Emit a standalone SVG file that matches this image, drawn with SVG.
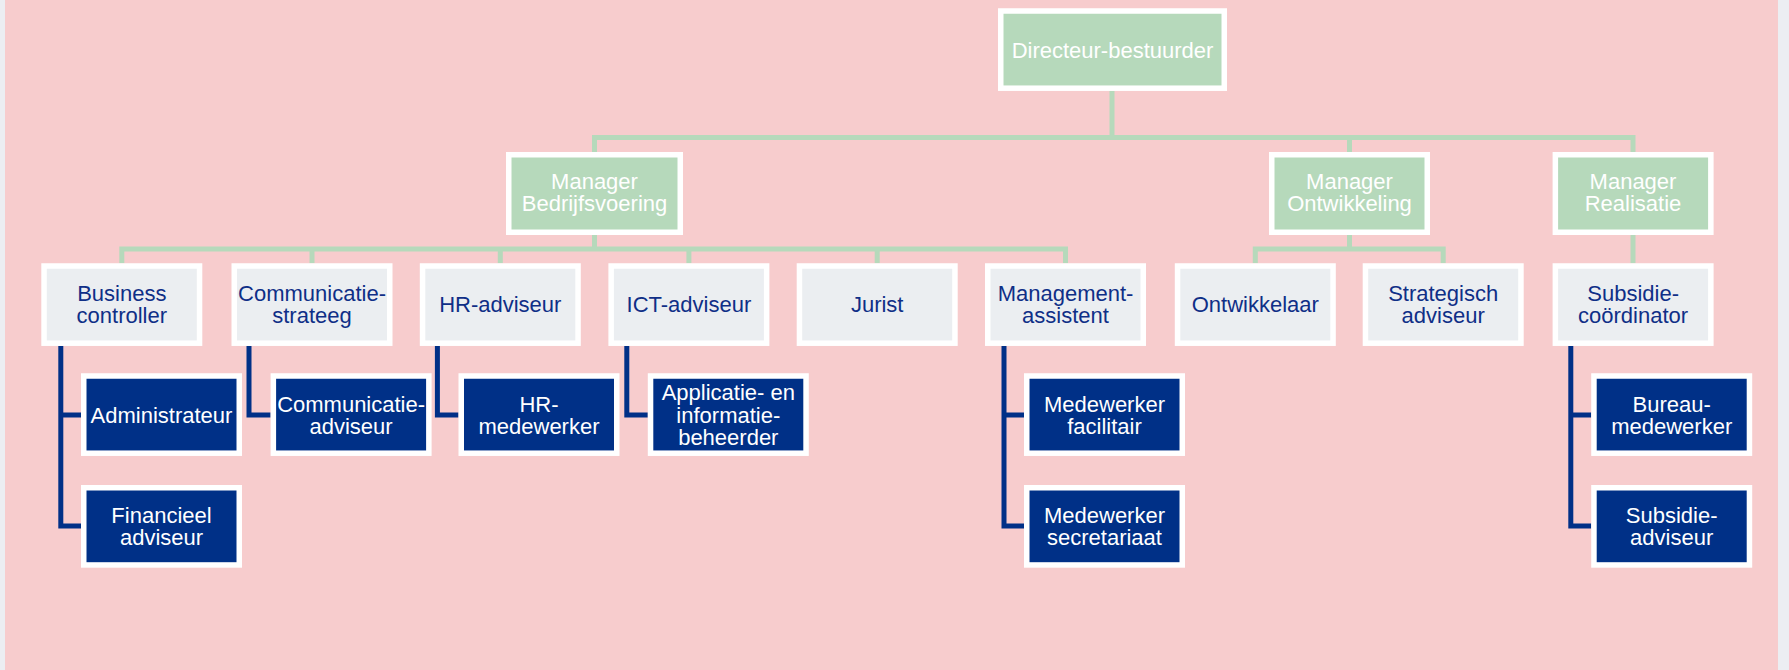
<svg xmlns="http://www.w3.org/2000/svg" width="1789" height="670" viewBox="0 0 1789 670">
<style>
text{font-family:"Liberation Sans",Arial,sans-serif;font-size:22px;text-anchor:middle}
.g rect{fill:#b6d9bb;stroke:#fff;stroke-width:5.5}
.g text{fill:#fff}
.l rect{fill:#ebeef1;stroke:#fff;stroke-width:5.5}
.l text{fill:#0f2f87}
.d rect{fill:#003087;stroke:#fff;stroke-width:5.5}
.d text{fill:#fff}
.cg{fill:none;stroke:#b6d9bb;stroke-width:5}
.cb{fill:none;stroke:#003087;stroke-width:5}
</style>
<rect x="0" y="0" width="1789" height="670" fill="#eceef2"/>
<rect x="5" y="0" width="1773" height="670" fill="#f7cccd"/>
<g id="connectors">
<path class="cg" d="M1112,91 V137.5 M594.5,152 V137.5 H1633 V152 M1349.5,137.5 V152"/>
<path class="cg" d="M594.5,235 V249 M121.8,263.3 V249 H1065.5 V263.3 M312,249 V263.3 M500.3,249 V263.3 M688.9,249 V263.3 M877.2,249 V263.3"/>
<path class="cg" d="M1349.5,235 V249 M1255.3,263.3 V249 H1443.2 V263.3"/>
<path class="cg" d="M1633,235 V263.3"/>
<path class="cb" d="M60.8,346 V526 H81 M60.8,415 H81"/>
<path class="cb" d="M249,346 V415 H270.6"/>
<path class="cb" d="M437.4,346 V415 H458.5"/>
<path class="cb" d="M626.8,346 V415 H647.8"/>
<path class="cb" d="M1004,346 V526 H1024 M1004,415 H1024"/>
<path class="cb" d="M1570.8,346 V526 H1591.2 M1570.8,415 H1591.2"/>
</g>
<g id="directeur" class="g"><rect x="1000.75" y="11" width="223.5" height="77.2"/><text x="1112.5" y="57.5">Directeur-bestuurder</text></g>
<g id="manager-bedrijfsvoering" class="g"><rect x="508.75" y="154.75" width="171.5" height="77.5"/><text x="594.5" y="189">Manager</text><text x="594.5" y="211">Bedrijfsvoering</text></g>
<g id="manager-ontwikkeling" class="g"><rect x="1271.75" y="154.75" width="155.5" height="77.5"/><text x="1349.5" y="189">Manager</text><text x="1349.5" y="211">Ontwikkeling</text></g>
<g id="manager-realisatie" class="g"><rect x="1555.35" y="154.75" width="155.5" height="77.5"/><text x="1633" y="189">Manager</text><text x="1633" y="211">Realisatie</text></g>

<g id="business-controller" class="l"><rect x="44.05" y="266" width="155.5" height="77.2"/><text x="121.8" y="301">Business</text><text x="121.8" y="323">controller</text></g>
<g id="communicatie-strateeg" class="l"><rect x="234.25" y="266" width="155.5" height="77.2"/><text x="312" y="301">Communicatie-</text><text x="312" y="323">strateeg</text></g>
<g id="hr-adviseur" class="l"><rect x="422.55" y="266" width="155.5" height="77.2"/><text x="500.3" y="312">HR-adviseur</text></g>
<g id="ict-adviseur" class="l"><rect x="611.15" y="266" width="155.5" height="77.2"/><text x="688.9" y="312">ICT-adviseur</text></g>
<g id="jurist" class="l"><rect x="799.45" y="266" width="155.5" height="77.2"/><text x="877.2" y="312">Jurist</text></g>
<g id="management-assistent" class="l"><rect x="987.75" y="266" width="155.5" height="77.2"/><text x="1065.5" y="301">Management-</text><text x="1065.5" y="323">assistent</text></g>
<g id="ontwikkelaar" class="l"><rect x="1177.55" y="266" width="155.5" height="77.2"/><text x="1255.3" y="312">Ontwikkelaar</text></g>
<g id="strategisch-adviseur" class="l"><rect x="1365.45" y="266" width="155.5" height="77.2"/><text x="1443.2" y="301">Strategisch</text><text x="1443.2" y="323">adviseur</text></g>
<g id="subsidie-coordinator" class="l"><rect x="1555.35" y="266" width="155.5" height="77.2"/><text x="1633.1" y="301">Subsidie-</text><text x="1633.1" y="323">coördinator</text></g>

<g id="administrateur" class="d"><rect x="83.75" y="376" width="155.5" height="77.2"/><text x="161.5" y="423">Administrateur</text></g>
<g id="financieel-adviseur" class="d"><rect x="83.75" y="487.75" width="155.5" height="77.2"/><text x="161.5" y="523">Financieel</text><text x="161.5" y="545">adviseur</text></g>
<g id="communicatie-adviseur" class="d"><rect x="273.35" y="376" width="155.5" height="77.2"/><text x="351.1" y="412">Communicatie-</text><text x="351.1" y="434">adviseur</text></g>
<g id="hr-medewerker" class="d"><rect x="461.25" y="376" width="155.5" height="77.2"/><text x="539" y="412">HR-</text><text x="539" y="434">medewerker</text></g>
<g id="applicatie-beheerder" class="d"><rect x="650.55" y="376" width="155.5" height="77.2"/><text x="728.3" y="400">Applicatie- en</text><text x="728.3" y="422.5">informatie-</text><text x="728.3" y="445">beheerder</text></g>
<g id="medewerker-facilitair" class="d"><rect x="1026.75" y="376" width="155.5" height="77.2"/><text x="1104.5" y="412">Medewerker</text><text x="1104.5" y="434">facilitair</text></g>
<g id="medewerker-secretariaat" class="d"><rect x="1026.75" y="487.75" width="155.5" height="77.2"/><text x="1104.5" y="523">Medewerker</text><text x="1104.5" y="545">secretariaat</text></g>
<g id="bureau-medewerker" class="d"><rect x="1593.95" y="376" width="155.5" height="77.2"/><text x="1671.7" y="412">Bureau-</text><text x="1671.7" y="434">medewerker</text></g>
<g id="subsidie-adviseur" class="d"><rect x="1593.95" y="487.75" width="155.5" height="77.2"/><text x="1671.7" y="523">Subsidie-</text><text x="1671.7" y="545">adviseur</text></g>
</svg>
